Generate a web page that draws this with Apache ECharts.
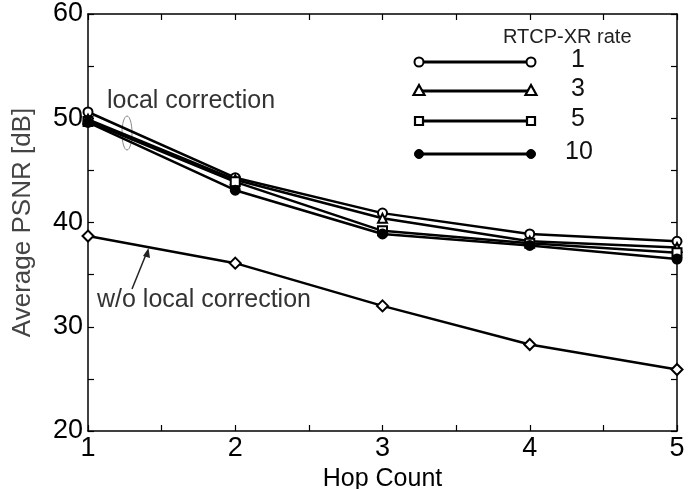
<!DOCTYPE html>
<html>
<head>
<meta charset="utf-8">
<title>Average PSNR vs Hop Count</title>
<script src="https://cdn.jsdelivr.net/npm/echarts@6/dist/echarts.min.js"></script>
<style>
  html, body { margin: 0; padding: 0; background: #fff; }
  #chart { width: 693px; height: 489px; }
</style>
</head>
<body>
<div id="chart"></div>
<script>
// values
const hops = [1, 2, 3, 4, 5]
const rate1 = [50.6, 44.3, 40.9, 38.9, 38.2]
const rate3 = [49.9, 44.1, 40.4, 38.2, 37.6]
const rate5 = [49.7, 43.9, 39.2, 38.0, 37.1]
const rate10 = [49.6, 43.1, 38.9, 37.8, 36.5]
const noCorrection = [38.7, 36.1, 32.0, 28.3, 25.9]
const rateNames = ['1', '3', '5', '10']

const FONT = 'Liberation Sans, Arial, sans-serif'

const chart = echarts.init(document.getElementById('chart'))

function pairs(ys) {
    return hops.map((h, i) => [h, ys[i]])
}

function lineSeries(name, ys, symbol, filled) {
    return {
        name: name,
        type: 'line',
        data: pairs(ys),
        symbol: symbol,
        symbolSize: symbol === 'diamond' ? 11 : 9,
        showSymbol: true,
        lineStyle: { color: '#000', width: 2.5 },
        itemStyle: { color: filled ? '#000' : '#fff', borderColor: '#000', borderWidth: 2 },
        emphasis: { disabled: true },
        z: 3
    }
}

//legend drawn by hand: line with a marker on both ends, like matlab
function legendGraphics() {
    const items = []
    const shapes = ['circle', 'triangle', 'square', 'dot']
    const ys = [62, 91, 121, 154]
    items.push({
        type: 'text', left: 503, top: 27,
        style: { text: 'RTCP-XR rate', font: '20px ' + FONT, fill: '#222' }
    })
    shapes.forEach((s, i) => {
        const y = ys[i]
        items.push({
            type: 'line',
            shape: { x1: 419, y1: y, x2: 531, y2: y },
            style: { stroke: '#000', lineWidth: 2.8 }
        })
        for (const x of [419, 531]) {
            if (s === 'circle') {
                items.push({ type: 'circle', shape: { cx: x, cy: y, r: 4.5 }, style: { fill: '#fff', stroke: '#000', lineWidth: 2 } })
            } else if (s === 'triangle') {
                items.push({ type: 'polygon', shape: { points: [[x, y - 6], [x - 5.5, y + 4], [x + 5.5, y + 4]] }, style: { fill: '#fff', stroke: '#000', lineWidth: 2.2 } })
            } else if (s === 'square') {
                items.push({ type: 'rect', shape: { x: x - 4, y: y - 4, width: 8, height: 8 }, style: { fill: '#fff', stroke: '#000', lineWidth: 2.2 } })
            } else {
                items.push({ type: 'circle', shape: { cx: x, cy: y, r: 4.5 }, style: { fill: '#000', stroke: '#000', lineWidth: 1 } })
            }
        }
        items.push({
            type: 'text', left: rateNames[i].length > 1 ? 565 : 571, top: y - 14,
            style: { text: rateNames[i], font: '25px ' + FONT, fill: '#111' }
        })
    })
    return items
}

//annotations
function annotationGraphics() {
    return [
        {
            type: 'text', left: 107, top: 89,
            style: { text: 'local correction', font: '25px ' + FONT, fill: '#333' }
        },
        {
            type: 'ellipse', shape: { cx: 127, cy: 133, rx: 5, ry: 17 },
            style: { fill: 'none', stroke: '#888', lineWidth: 1 }
        },
        {
            type: 'text', left: 97, top: 288,
            style: { text: 'w/o local correction', font: '25px ' + FONT, fill: '#333' }
        },
        {
            type: 'line', shape: { x1: 132, y1: 289, x2: 147, y2: 252 },
            style: { stroke: '#222', lineWidth: 1.5 }
        },
        {
            type: 'polygon', shape: { points: [[148.5, 248], [143, 256], [150, 258]] },
            style: { fill: '#222' }
        }
    ]
}

const axisLineStyle = { color: '#000', width: 1.5 }

const option = {
    animation: false,
    backgroundColor: '#fff',
    grid: { left: 88, right: 16, top: 14, bottom: 58, outerBoundsMode: 'none', containLabel: false },
    xAxis: [
        {
            type: 'value', min: 1, max: 5, interval: 0.5,
            name: 'Hop Count', nameLocation: 'middle', nameGap: 31,
            nameTextStyle: { fontFamily: FONT, fontSize: 25, color: '#000' },
            axisLine: { lineStyle: axisLineStyle },
            axisTick: { inside: true, length: 6, lineStyle: { color: '#000', width: 1.2 } },
            axisLabel: {
                fontFamily: FONT, fontSize: 27, color: '#000', margin: 4,
                formatter: v => Number.isInteger(v) ? String(v) : ''
            },
            splitLine: { show: false }
        },
        {
            type: 'value', min: 1, max: 5, interval: 0.5, position: 'top',
            axisLine: { lineStyle: axisLineStyle },
            axisTick: { inside: true, length: 6, lineStyle: { color: '#000', width: 1.2 } },
            axisLabel: { show: false },
            splitLine: { show: false }
        }
    ],
    yAxis: [
        {
            type: 'value', min: 20, max: 60, interval: 5,
            name: 'Average PSNR [dB]', nameLocation: 'middle', nameGap: 52,
            nameTextStyle: { fontFamily: FONT, fontSize: 26, color: '#444' },
            axisLine: { show: true, lineStyle: axisLineStyle },
            axisTick: { show: true, inside: true, length: 6, lineStyle: { color: '#000', width: 1.2 } },
            axisLabel: {
                fontFamily: FONT, fontSize: 27, color: '#000', margin: 5,
                formatter: v => v % 10 === 0 ? String(v) : ''
            },
            splitLine: { show: false }
        },
        {
            type: 'value', min: 20, max: 60, interval: 5, position: 'right',
            axisLine: { show: true, lineStyle: axisLineStyle },
            axisTick: { show: true, inside: true, length: 6, lineStyle: { color: '#000', width: 1.2 } },
            axisLabel: { show: false },
            splitLine: { show: false }
        }
    ],
    series: [
        lineSeries('1', rate1, 'circle', false),
        lineSeries('3', rate3, 'triangle', false),
        lineSeries('5', rate5, 'rect', false),
        lineSeries('10', rate10, 'circle', true),
        lineSeries('w/o local correction', noCorrection, 'diamond', false)
    ],
    graphic: legendGraphics().concat(annotationGraphics())
}

chart.setOption(option)
</script>
</body>
</html>
